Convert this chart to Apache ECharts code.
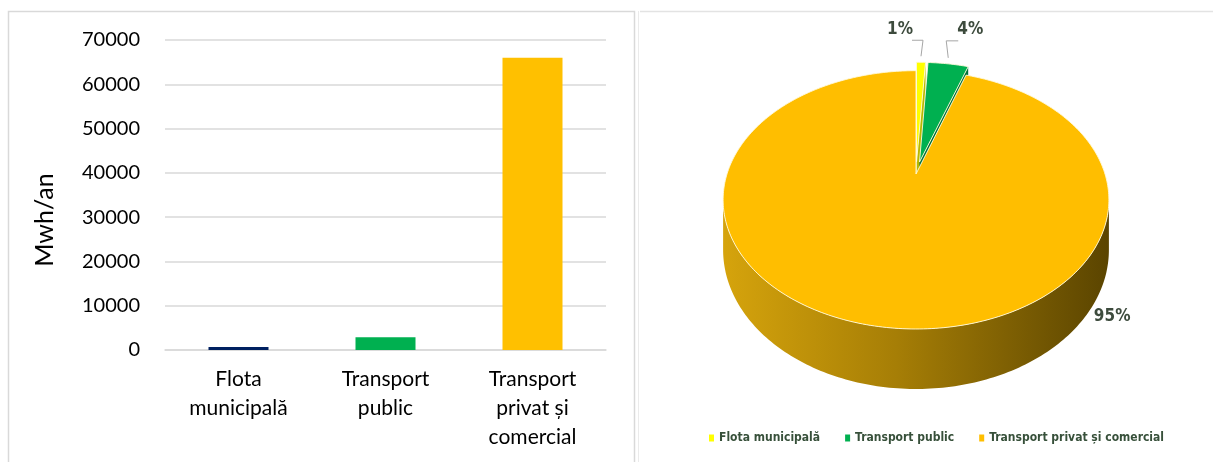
<!DOCTYPE html>
<html>
<head>
<meta charset="utf-8">
<script src="https://cdn.jsdelivr.net/npm/echarts@6/dist/echarts.min.js"></script>
<style>
  html, body { margin: 0; padding: 0; background: #ffffff; }
  #chart { width: 1213px; height: 462px; }
</style>
</head>
<body>
<div id="chart"></div>
<script>
// Energy use of transport, MWh per year
const categories = ['Flota\nmunicipală', 'Transport\npublic', 'Transport\nprivat și\ncomercial'];
const legendNames = ['Flota municipală', 'Transport public', 'Transport privat și comercial'];
const consumption = [650, 2900, 66000];
const yAxisName = 'Mwh/an';
const yMin = 0;
const yMax = 70000;
const yStep = 10000;

// Colours
const barColors = ['#002060', '#00B050', '#FFC000'];
const sliceColors = ['#FFFF00', '#00B050', '#FFBE00'];
const sliceFaceColors = ['#B8B800', '#00703A', '#9A7400'];
const sliceRimStops = [
  ['#E0D800', '#8A8600'],
  ['#00A050', '#005A2C'],
  ['#D6A40C', '#5A4400']
];

// 3D pie geometry (perspective projection of a flat cylinder)
const PIE = { cx: 916, cy: 174, rx: 189, ry: 124, k: 0.2, depth: 48 };
const explode = [0.1, 0.1, 0];
const labelSpots = [
  { angle: null, rim: 0, dx: -21, dy: -33, leader: 'left' },
  { angle: null, rim: 0, dx: 22, dy: -34, leader: 'right' },
  { angle: 118, rim: 1, dx: 12, dy: 25, leader: null }
];
const narrowFont = "'Liberation Sans Narrow', 'DejaVu Sans Condensed', sans-serif";

const total = consumption.reduce((a, b) => a + b, 0);
const bounds = [];
(function () {
  let acc = 0;
  consumption.forEach(v => {
    const s = acc / total * Math.PI * 2;
    acc += v;
    bounds.push([s, acc / total * Math.PI * 2]);
  });
})();

function project(ux, uy, z) {
  const d = 1 + PIE.k * uy;
  return [PIE.cx + PIE.rx * ux / d, PIE.cy - PIE.ry * uy / d + PIE.depth * z / d];
}

function arcPoints(ox, oy, a, b, z) {
  const pts = [];
  const n = Math.max(2, Math.ceil(Math.abs(b - a) / (Math.PI / 180)) + 1);
  for (let j = 0; j < n; j++) {
    const t = a + (b - a) * j / (n - 1);
    pts.push(project(ox + Math.sin(t), oy + Math.cos(t), z));
  }
  return pts;
}

function sliceRenderer(i) {
  return function (params, api) {
    const value = api.value(0);
    const s = bounds[i][0];
    const e = s + value / total * Math.PI * 2;
    const mid = (s + e) / 2;
    const ox = explode[i] * Math.sin(mid);
    const oy = explode[i] * Math.cos(mid);
    const children = [];

    const rimFill = {
      type: 'linear', global: true,
      x: PIE.cx - PIE.rx * 1.03, y: 0, x2: PIE.cx + PIE.rx * 1.03, y2: 0,
      colorStops: [
        { offset: 0, color: sliceRimStops[i][0] },
        { offset: 0.45, color: i === 2 ? '#A67E06' : sliceRimStops[i][1] },
        { offset: 1, color: sliceRimStops[i][1] }
      ]
    };

    // radial cut faces that turn towards the viewer
    const c0 = project(ox, oy, 0), c1 = project(ox, oy, 1);
    if (Math.sin(e) > 0.02) {
      const r0 = project(ox + Math.sin(e), oy + Math.cos(e), 0);
      const r1 = project(ox + Math.sin(e), oy + Math.cos(e), 1);
      children.push({ type: 'polygon', shape: { points: [c0, r0, r1, c1] },
        style: { fill: sliceFaceColors[i] } });
    }
    if (Math.sin(s) < -0.02) {
      const r0 = project(ox + Math.sin(s), oy + Math.cos(s), 0);
      const r1 = project(ox + Math.sin(s), oy + Math.cos(s), 1);
      children.push({ type: 'polygon', shape: { points: [c0, r0, r1, c1] },
        style: { fill: sliceFaceColors[i] } });
    }

    // outer wall, front part only
    const va = Math.acos(-PIE.k), vb = Math.PI * 2 - va;
    const a = Math.max(s, va), b = Math.min(e, vb);
    if (b > a) {
      const top = arcPoints(ox, oy, a, b, 0);
      const bottom = arcPoints(ox, oy, a, b, 1).reverse();
      children.push({ type: 'polygon', shape: { points: top.concat(bottom) },
        style: { fill: rimFill } });
    }

    // top face
    const face = [c0].concat(arcPoints(ox, oy, s, e, 0));
    children.push({ type: 'polygon', shape: { points: face },
      style: { fill: sliceColors[i], stroke: 'rgba(255,250,220,0.9)', lineWidth: 1 } });

    // percentage label
    const spot = labelSpots[i];
    const ang = spot.angle === null ? mid : spot.angle * Math.PI / 180;
    const rp = project(ox + Math.sin(ang), oy + Math.cos(ang), spot.rim);
    const lx = rp[0] + spot.dx, ly = rp[1] + spot.dy;
    if (spot.leader) {
      const side = spot.leader === 'left' ? -1 : 1;
      children.push({ type: 'polyline',
        shape: { points: [[rp[0], rp[1] - 6], [rp[0] - side * 2, ly + 11], [lx - side * 12, ly + 11]] },
        style: { stroke: '#A6A6A6', lineWidth: 1, fill: null } });
    }
    children.push({ type: 'text',
      style: {
        text: Math.round(value / total * 100) + '%',
        x: lx, y: ly, align: 'center', verticalAlign: 'middle',
        fill: '#3D4B3D', fontSize: 17, fontWeight: 'bold',
        fontFamily: narrowFont
      } });

    return { type: 'group', children: children };
  };
}

const chart = echarts.init(document.getElementById('chart'), null, { renderer: 'canvas' });

const pieSeries = legendNames.map((name, i) => ({
  type: 'custom',
  name: name,
  coordinateSystem: 'none',
  itemStyle: { color: sliceColors[i] },
  renderItem: sliceRenderer(i),
  data: [[consumption[i]]],
  silent: true,
  z: 3
}));

const option = {
  animation: false,
  backgroundColor: '#ffffff',
  textStyle: { fontFamily: 'Lato, sans-serif' },
  graphic: [
    { type: 'rect', z: -10, shape: { x: 8.5, y: 11.5, width: 626, height: 470 },
      style: { fill: null, stroke: '#D9D9D9', lineWidth: 1.5 } },
    { type: 'line', z: -10, shape: { x1: 638.5, y1: 11, x2: 638.5, y2: 462 },
      style: { stroke: '#EBEBEB', lineWidth: 1 } },
    { type: 'line', z: -10, shape: { x1: 640, y1: 11.5, x2: 1213, y2: 11.5 },
      style: { stroke: '#E3E3E3', lineWidth: 1.5 } }
  ],
  grid: { left: 165, right: 607, top: 40, bottom: 112, containLabel: false },
  xAxis: {
    type: 'category',
    data: categories,
    axisLine: { show: true, lineStyle: { color: '#D9D9D9', width: 1.5 } },
    axisTick: { show: false },
    axisLabel: { interval: 0, color: '#000000', fontSize: 21, lineHeight: 29, margin: 15,
      fontFamily: 'Lato, sans-serif' }
  },
  yAxis: {
    type: 'value',
    min: yMin, max: yMax, interval: yStep,
    name: yAxisName,
    nameLocation: 'middle',
    nameGap: 108,
    nameTextStyle: { color: '#000000', fontSize: 25, fontFamily: 'Lato, sans-serif',
      padding: [0, 50, 0, 0] },
    axisLine: { show: false },
    axisTick: { show: false },
    axisLabel: { color: '#000000', fontSize: 20, margin: 25, fontFamily: 'Lato, sans-serif',
      formatter: v => String(v) },
    splitLine: { lineStyle: { color: '#D9D9D9', width: 1.5 } }
  },
  legend: {
    data: legendNames,
    left: 704, top: 427, width: 505,
    icon: 'rect', itemWidth: 5, itemHeight: 7, itemGap: 25,
    selectedMode: false,
    textStyle: { color: '#37503A', fontSize: 12, fontWeight: 'bold', fontFamily: narrowFont }
  },
  series: [
    {
      type: 'bar',
      name: yAxisName,
      barWidth: 60,
      data: consumption.map((v, i) => ({ value: v, itemStyle: { color: barColors[i] } })),
      silent: true
    }
  ].concat(pieSeries)
};

chart.setOption(option);
</script>
</body>
</html>
